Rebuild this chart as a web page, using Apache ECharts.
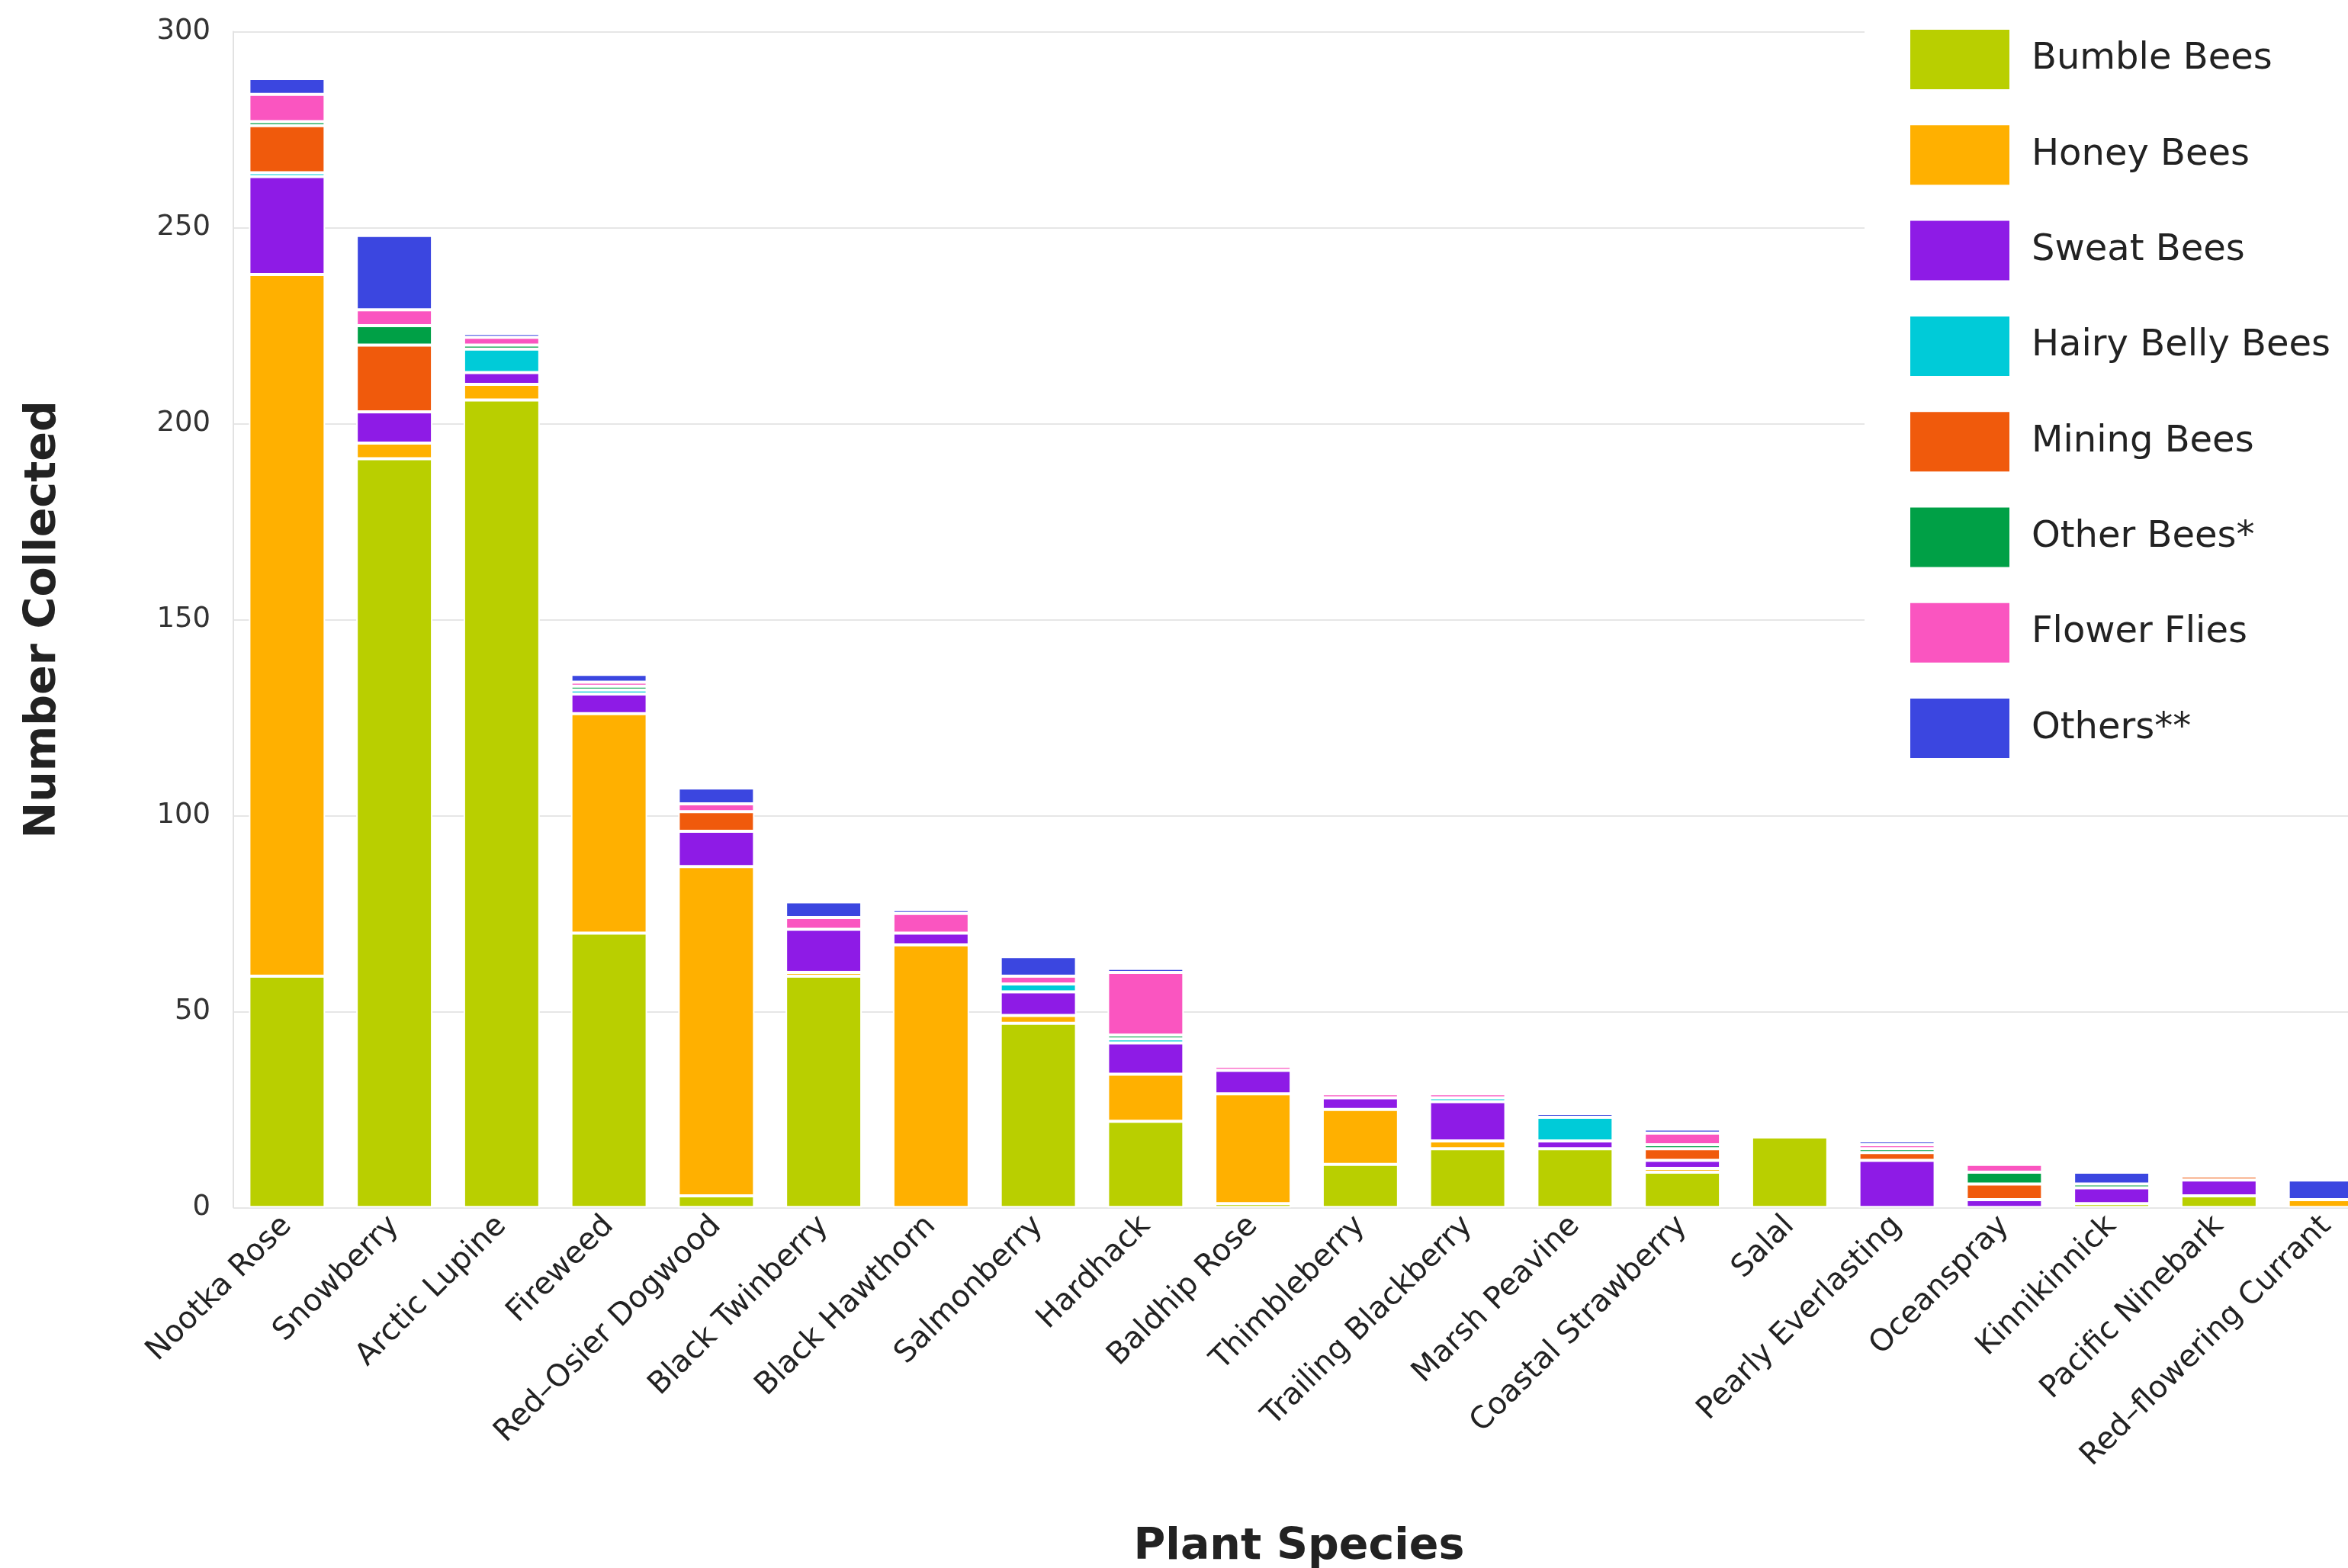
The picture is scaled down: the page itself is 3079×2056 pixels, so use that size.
<!DOCTYPE html>
<html>
<head>
<meta charset="utf-8">
<script src="https://cdn.jsdelivr.net/npm/echarts@6/dist/echarts.min.js"></script>
<style>
html,body{margin:0;padding:0;background:#fff;}
#chart{width:3079px;height:2056px;}
</style>
</head>
<body>
<div id="chart"></div>
<script>
var categories = ['Nootka Rose','Snowberry','Arctic Lupine','Fireweed','Red\u2013Osier Dogwood','Black Twinberry','Black Hawthorn','Salmonberry','Hardhack','Baldhip Rose','Thimbleberry','Trailing Blackberry','Marsh Peavine','Coastal Strawberry','Salal','Pearly Everlasting','Oceanspray','Kinnikinnick','Pacific Ninebark','Red\u2013flowering Currant'];
var bumbleBees    = [59,191,206,70,3,59,0,47,22,1,11,15,15,9,18,0,0,1,3,0];
var honeyBees     = [179,4,4,56,84,1,67,2,12,28,14,2,0,1,0,0,0,0,0,2];
var sweatBees     = [25,8,3,5,9,11,3,6,8,6,3,10,2,2,0,12,2,4,4,0];
var hairyBelly    = [1,0,6,1,0,0,0,2,1,0,0,1,6,0,0,0,0,0,0,0];
var miningBees    = [12,17,0,0,5,0,0,0,0,0,0,0,0,3,0,2,4,0,1,0];
var otherBees     = [1,5,1,1,0,0,0,0,1,0,0,0,0,1,0,1,3,1,0,0];
var flowerFlies   = [7,4,2,1,2,3,5,2,16,1,1,1,0,3,0,1,2,0,0,0];
var others        = [4,19,1,2,4,4,1,5,1,0,0,0,1,1,0,1,0,3,0,5];
var yTicks = [0,50,100,150,200,250,300];

var seriesNames  = ['Bumble Bees','Honey Bees','Sweat Bees','Hairy Belly Bees','Mining Bees','Other Bees*','Flower Flies','Others**'];
var seriesData   = [bumbleBees,honeyBees,sweatBees,hairyBelly,miningBees,otherBees,flowerFlies,others];
var seriesColors = ['#b9cf00','#ffb000','#8e1be6','#00cbd8','#f05a0c','#00a046','#fa55c0','#3b46e0'];

var FONT = 'DejaVu Sans';
var chart = echarts.init(document.getElementById('chart'), null, {renderer:'canvas'});
var series = seriesNames.map(function(n,i){
  return {
    name:n, type:'bar', stack:'total', barCategoryGap:'29%',
    itemStyle:{color:seriesColors[i], borderColor:'#ffffff', borderWidth:2},
    data: seriesData[i].map(function(v){return v===0?null:v;})
  };
});
chart.setOption({
  animation:false,
  backgroundColor:'#ffffff',
  textStyle:{fontFamily:FONT},
  grid:{left:306, width:2815, top:41.4, bottom:472.7, containLabel:false, outerBoundsMode:'none'},
  legend:{
    orient:'vertical', left:2445, top:0,
    padding:[37,40,30,58],
    backgroundColor:'#ffffff',
    icon:'rect', itemWidth:132, itemHeight:80, itemGap:43.3,
    textStyle:{fontFamily:FONT, fontSize:48, color:'#222222', padding:[0,0,0,23]},
    data:seriesNames
  },
  xAxis:{
    type:'category', data:categories,
    name:'Plant Species', nameLocation:'middle', nameGap:417,
    nameTextStyle:{fontFamily:FONT, fontWeight:'bold', fontSize:57, color:'#222222', padding:[0,20,0,0]},
    axisLine:{show:false}, axisTick:{show:false},
    axisLabel:{rotate:45, fontSize:40, color:'#222222', margin:18, interval:0, fontFamily:FONT}
  },
  yAxis:{
    type:'value', min:yTicks[0], max:yTicks[yTicks.length-1], interval:yTicks[1]-yTicks[0],
    name:'Number Collected', nameLocation:'middle', nameGap:220,
    nameTextStyle:{fontFamily:FONT, fontWeight:'bold', fontSize:57, color:'#222222'},
    axisLine:{show:true, lineStyle:{color:'#e2e2e2', width:2}},
    axisTick:{show:false},
    axisLabel:{fontSize:37, color:'#333333', margin:30, fontFamily:FONT},
    splitLine:{lineStyle:{color:'#e6e6e6', width:2}}
  },
  series:series
});
</script>
</body>
</html>
